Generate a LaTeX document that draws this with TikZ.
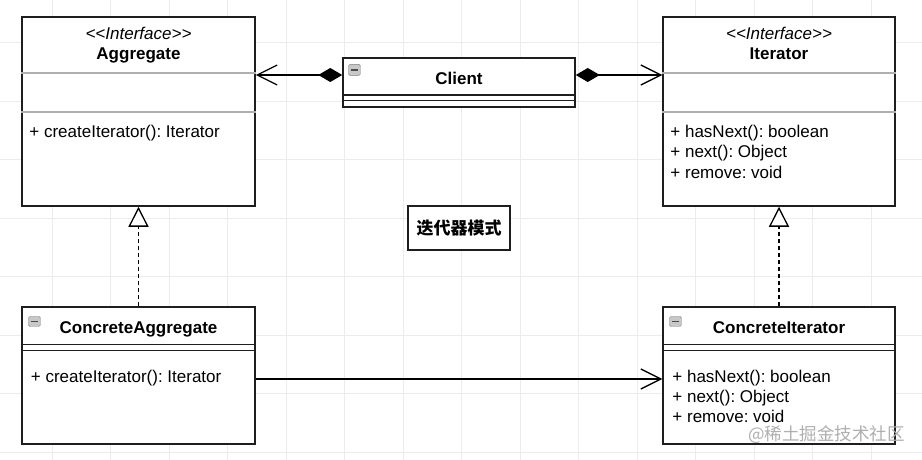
\documentclass[tikz,border=0pt]{standalone}
\usepackage{fontspec}
\setmainfont{Liberation Sans}
\newfontfamily\cjk{Noto Sans CJK SC}
\usetikzlibrary{arrows.meta, positioning, calc}
\definecolor{border}{RGB}{30,30,30}
\definecolor{divider}{RGB}{175,175,175}
\definecolor{gridgray}{RGB}{236,236,236}
\definecolor{iconfill}{RGB}{200,200,200}
\definecolor{wmgray}{RGB}{175,175,175}
\frenchspacing

\begin{document}
\begin{tikzpicture}[x=1pt, y=-1pt]
		% Define elements
		\tikzstyle{cls} = [rectangle, draw=border, line width=1.5pt, fill=white, inner sep=0]
		\tikzstyle{txt} = [inner sep=0, font=\fontsize{17}{20.5}\selectfont]
		\tikzstyle{stereo} = [txt, font=\fontsize{17}{20.5}\selectfont\itshape]
		\tikzstyle{clsname} = [txt, font=\fontsize{17}{20.5}\selectfont\bfseries]
		\tikzstyle{sep} = [draw=border, line width=1.5pt]
		\tikzstyle{sepgray} = [draw=divider, line width=1.5pt]
		\tikzstyle{icon} = [rectangle, rounded corners=1.5pt, draw=gray, fill=iconfill,
		    minimum width=12pt, minimum height=10pt, inner sep=0,
		    path picture={\draw[black!70, line width=1.8pt] ([xshift=2.5pt]path picture bounding box.west) -- ([xshift=-2.5pt]path picture bounding box.east);}]
		\tikzstyle{line} = [draw=black, line width=1.3pt]
		\tikzstyle{compose} = [line, {Diamond[length=24pt, width=14pt]}-{Straight Barb[length=20pt, width=20pt]}]
		\tikzstyle{assoc} = [line, -{Straight Barb[length=20pt, width=20pt]}]
		\tikzstyle{realize} = [line, dash pattern=on 4pt off 3pt, -{Triangle[open, length=20pt, width=20pt, fill=white]}]
		\tikzstyle{gridline} = [draw=gridgray, line width=0.8pt]

		%% Canvas
		\useasboundingbox (0,0) rectangle (922,460);
		\fill [white] (0,0) rectangle (922,460);
		\begin{scope}
			\clip (0,0) rectangle (922,460);
			\draw [gridline, shift={(52,42.5)}, step=58.5pt] (-60,430) grid (880,-60);
		\end{scope}

		%% Interfaces
		\node [name = agg, cls, minimum width=233, minimum height=189] at (138.5,111.5) {};
		\draw [sepgray] ([yshift=-57pt]agg.north west) -- ([yshift=-57pt]agg.north east);
		\draw [sepgray] ([yshift=-96pt]agg.north west) -- ([yshift=-96pt]agg.north east);
		\node [name = aggst, stereo, anchor=base] at ([yshift=-23pt]agg.north) {<\kern0pt<Interface>\kern0pt>};
		\node [name = aggname, clsname, below=20pt of aggst.base, anchor=base] {Aggregate};
		\node [name = aggm1, txt, anchor=base west] at ([xshift=8pt, yshift=-121pt]agg.north west) {+ createIterator(): Iterator};

		\node [name = itr, cls, minimum width=232, minimum height=189] at (779,111.5) {};
		\draw [sepgray] ([yshift=-57pt]itr.north west) -- ([yshift=-57pt]itr.north east);
		\draw [sepgray] ([yshift=-96pt]itr.north west) -- ([yshift=-96pt]itr.north east);
		\node [name = itrst, stereo, anchor=base] at ([yshift=-23pt]itr.north) {<\kern0pt<Interface>\kern0pt>};
		\node [name = itrname, clsname, below=20pt of itrst.base, anchor=base] {Iterator};
		\node [name = itrm1, txt, anchor=base west] at ([xshift=8pt, yshift=-121pt]itr.north west) {+ hasNext(): boolean};
		\node [name = itrm2, txt, below=20.5pt of itrm1.base west, anchor=base west] {+ next(): Object};
		\node [name = itrm3, txt, below=20.5pt of itrm2.base west, anchor=base west] {+ remove: void};

		%% Client
		\node [name = cli, cls, minimum width=232, minimum height=49] at (459,82.5) {};
		\draw [sep] ([yshift=-38pt]cli.north west) -- ([yshift=-38pt]cli.north east);
		\draw [sep] ([yshift=-43.5pt]cli.north west) -- ([yshift=-43.5pt]cli.north east);
		\node [name = cliicon, icon, minimum height=11pt, anchor=north west] at ([xshift=6pt, yshift=-7pt]cli.north west) {};
		\node [name = cliname, clsname, anchor=base] at ([yshift=-27pt]cli.north) {Client};

		%% Concrete classes
		\node [name = cagg, cls, minimum width=233, minimum height=137] at (138.5,375.5) {};
		\draw [sep] ([yshift=-38pt]cagg.north west) -- ([yshift=-38pt]cagg.north east);
		\draw [sep] ([yshift=-44pt]cagg.north west) -- ([yshift=-44pt]cagg.north east);
		\node [name = caggicon, icon, anchor=north west] at ([xshift=7pt, yshift=-10pt]cagg.north west) {};
		\node [name = caggname, clsname, anchor=base] at ([yshift=-27pt]cagg.north) {ConcreteAggregate};
		\node [name = caggm1, txt, anchor=base west] at ([xshift=9.5pt, yshift=-76pt]cagg.north west) {+ createIterator(): Iterator};

		\node [name = citr, cls, minimum width=232, minimum height=137] at (779,375.5) {};
		\draw [sep] ([yshift=-38pt]citr.north west) -- ([yshift=-38pt]citr.north east);
		\draw [sep] ([yshift=-44pt]citr.north west) -- ([yshift=-44pt]citr.north east);
		\node [name = citricon, icon, anchor=north west] at ([xshift=7pt, yshift=-10pt]citr.north west) {};
		\node [name = citrname, clsname, anchor=base] at ([yshift=-27pt]citr.north) {ConcreteIterator};
		\node [name = citrm1, txt, anchor=base west] at ([xshift=10pt, yshift=-76pt]citr.north west) {+ hasNext(): boolean};
		\node [name = citrm2, txt, below=20pt of citrm1.base west, anchor=base west] {+ next(): Object};
		\node [name = citrm3, txt, below=20pt of citrm2.base west, anchor=base west] {+ remove: void};

		%% Title
		\node [name = pattern, rectangle, draw=border, line width=1.5pt, fill=white,
			minimum width=102, minimum height=44,
			font = \cjk\bfseries\fontsize{17}{20}\selectfont] at (459,228) {迭代器模式};

		% arrows
		\path [compose] ([yshift=7.5pt]cli.west) -- ([yshift=7.5pt]cli.west -| agg.east);
		\path [compose] ([yshift=7.5pt]cli.east) -- ([yshift=7.5pt]cli.east -| itr.west);
		\path [realize] (cagg) -- (agg);
		\path [realize] (citr) -- (itr);
		\path [assoc] ([yshift=-3.5pt]cagg.east) -- ([yshift=-3.5pt]cagg.east -| citr.west);

		%% Watermark
		\node [name = wm, txt, text=wmgray, font=\cjk\fontsize{17.5}{20}\selectfont, anchor=base west] at (748,440) {@稀土掘金技术社区};
	\end{tikzpicture}
\end{document}
